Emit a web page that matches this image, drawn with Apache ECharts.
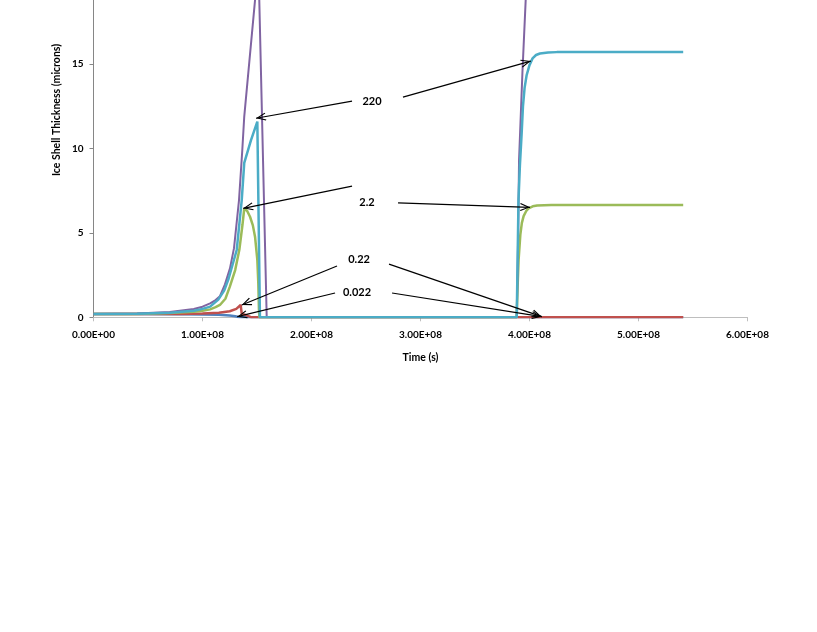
<!DOCTYPE html>
<html>
	<head>
		<meta charset="UTF-8">
		<title>Ice Shell Thickness</title>
		<script src="https://cdn.jsdelivr.net/npm/echarts@6/dist/echarts.min.js"></script>
		<style>
			html, body { margin: 0; padding: 0; background: #fff; }
		</style>
	</head>
	<body>
		<div id="chart" style="width:817px; height:632px;"></div>
		<script>
			// time in units of 1E+08 s, thickness in microns
			var blueT = [0, 0.4, 0.8, 1.0, 1.15, 1.25, 1.3, 1.33, 1.36, 5.41];
			var blueV = [0.19, 0.19, 0.18, 0.17, 0.15, 0.11, 0.06, 0.02, 0, 0];

			var redT = [0, 0.4, 0.8, 1.0, 1.15, 1.25, 1.31, 1.35, 1.36, 1.4, 1.45, 5.41];
			var redV = [0.19, 0.19, 0.2, 0.22, 0.27, 0.36, 0.5, 0.73, 0.22, 0.13, 0, 0];

			var greenT = [0, 0.4, 0.7, 0.92, 1.0, 1.07, 1.12, 1.16, 1.21, 1.25, 1.3, 1.338, 1.367, 1.383, 1.41, 1.436, 1.462, 1.482,
				1.503, 1.512, 1.518, 1.522, 3.882, 3.893, 3.9, 3.916, 3.93, 3.946, 3.97, 3.991, 4.03, 4.07, 4.2, 5.41];
			var greenV = [0.19, 0.2, 0.25, 0.33, 0.39, 0.47, 0.6, 0.73, 1.1, 1.8, 2.8, 4.0, 5.5, 6.46, 6.3, 5.96, 5.45, 4.78,
				3.4, 2.0, 0.43, 0, 0, 2.2, 3.4, 4.9, 5.6, 6.0, 6.3, 6.46, 6.58, 6.63, 6.65, 6.65];

			var purpleT = [0, 0.4, 0.7, 0.92, 1.0, 1.07, 1.12, 1.16, 1.206, 1.252, 1.289, 1.335, 1.365, 1.383, 1.482, 1.513, 1.589,
				3.883, 3.895, 3.904, 3.935, 3.965, 4.0, 4.1, 5.41];
			var purpleV = [0.2, 0.22, 0.31, 0.49, 0.63, 0.83, 1.02, 1.25, 1.95, 2.9, 4.1, 6.95, 9.9, 11.9, 18.8, 21, 0,
				0, 4.5, 9.3, 14.5, 18.8, 22, 28, 60];

			var cyanT = [0, 0.4, 0.7, 0.92, 1.0, 1.07, 1.145, 1.2, 1.24, 1.314, 1.36, 1.383, 1.445, 1.503, 1.527,
				3.883, 3.899, 3.912, 3.928, 3.94, 3.955, 3.974, 4.0, 4.028, 4.06, 4.096, 4.17, 4.25, 5.41];
			var cyanV = [0.2, 0.21, 0.27, 0.39, 0.5, 0.63, 1.05, 1.6, 2.3, 3.99, 6.95, 9.15, 10.5, 11.6, 0,
				0, 6.95, 9.0, 10.9, 12.5, 13.6, 14.36, 14.95, 15.35, 15.55, 15.64, 15.7, 15.72, 15.72];

			var xTicks = [0, 1, 2, 3, 4, 5, 6];
			var yTicks = [0, 5, 10, 15];

			// annotations: label text, label position, arrow start/end pairs
			var noteText = ['220', '2.2', '0.22', '0.022'];
			var noteAt = [[2.555, 12.82], [2.509, 6.78], [2.436, 3.4], [2.417, 1.5]];
			var arrowLeft = [
				[[2.372, 12.82], [1.491, 11.8]],
				[[2.372, 7.78], [1.374, 6.46]],
				[[2.234, 3.04], [1.36, 0.73]],
				[[2.216, 1.44], [1.319, 0.04]]
			];
			var arrowRight = [
				[[2.839, 13.05], [4.011, 15.19]],
				[[2.794, 6.78], [4.005, 6.52]],
				[[2.711, 3.15], [4.112, 0.04]],
				[[2.739, 1.44], [4.112, 0.04]]
			];

			function pairs(ts, vs) {
				return ts.map(function(t, i) { return [t, vs[i]]; });
			}

			function sciLabel(v) {
				if (v === 0) return '0.00E+00';
				return v.toFixed(2) + 'E+08';
			}

			var font = 'Lato, "Open Sans", sans-serif';
			var chevron = 'path://M5,-9.6 M5,0 L10,9 L8.8,9.6 L5,2.6 L1.2,9.6 L0,9 Z';

			function lineSeries(name, ts, vs, color, width) {
				return {
					name: name,
					type: 'line',
					data: pairs(ts, vs),
					showSymbol: false,
					symbol: 'none',
					smooth: false,
					lineStyle: { color: color, width: width },
					itemStyle: { color: color }
				};
			}

			var arrowData = arrowLeft.concat(arrowRight).map(function(a) {
				return [{ coord: a[0] }, { coord: a[1] }];
			});

			var chart = echarts.init(document.getElementById('chart'), null, { renderer: 'canvas' });
			chart.setOption({
				animation: false,
				backgroundColor: '#fff',
				grid: { left: 93.5, right: 69.5, top: 0, bottom: 314.7, containLabel: false },
				graphic: [{
					type: 'text',
					x: 57,
					y: 110,
					rotation: Math.PI / 2,
					style: {
						text: 'Ice Shell Thickness (microns)',
						fontFamily: font, fontWeight: 'bold', fontSize: 10.5, fill: '#000',
						align: 'center', verticalAlign: 'middle'
					}
				}],
				xAxis: {
					type: 'value',
					min: 0,
					max: 6,
					interval: 1,
					name: 'Time (s)',
					nameLocation: 'middle',
					nameGap: 35,
					nameTextStyle: { fontFamily: font, fontWeight: 'bold', fontSize: 10.5, color: '#000' },
					axisLine: { show: true, lineStyle: { color: '#BEBEBE', width: 1 } },
					axisTick: { show: true, length: 4, lineStyle: { color: '#BEBEBE' } },
					axisLabel: {
						margin: 12,
						fontFamily: font, fontWeight: 'bold', fontSize: 10, color: '#000',
						formatter: sciLabel,
						customValues: xTicks
					},
					splitLine: { show: false }
				},
				yAxis: {
					type: 'value',
					min: 0,
					max: 18.81,
					axisLine: { show: true, lineStyle: { color: '#868686', width: 1 } },
					axisTick: { show: true, length: 4, lineStyle: { color: '#868686' }, customValues: yTicks },
					axisLabel: { margin: 10, fontFamily: font, fontWeight: 'bold', fontSize: 10, color: '#000', customValues: yTicks },
					splitLine: { show: false }
				},
				series: [
					lineSeries('0.022', blueT, blueV, '#4F81BD', 2.5),
					lineSeries('0.22', redT, redV, '#C0504D', 2.5),
					lineSeries('2.2', greenT, greenV, '#9BBB59', 2.5),
					lineSeries('22', purpleT, purpleV, '#8064A2', 2),
					lineSeries('220', cyanT, cyanV, '#4BACC6', 2.5),
					{
						name: 'notes',
						type: 'line',
						data: [],
						markLine: {
							silent: true,
							animation: false,
							symbol: ['none', chevron],
							symbolSize: [8, 20],
							lineStyle: { color: '#000', width: 1.2, type: 'solid' },
							label: { show: false },
							emphasis: { disabled: true },
							data: arrowData
						},
						markPoint: {
							silent: true,
							animation: false,
							symbol: 'circle',
							symbolSize: 1,
							itemStyle: { color: 'rgba(0,0,0,0)' },
							label: {
								show: true,
								position: 'inside',
								formatter: '{b}',
								fontFamily: font, fontWeight: 'bold', fontSize: 11, color: '#000'
							},
							data: noteText.map(function(s, i) { return { name: s, coord: noteAt[i] }; })
						}
					}
				]
			});
		</script>
	</body>
</html>
